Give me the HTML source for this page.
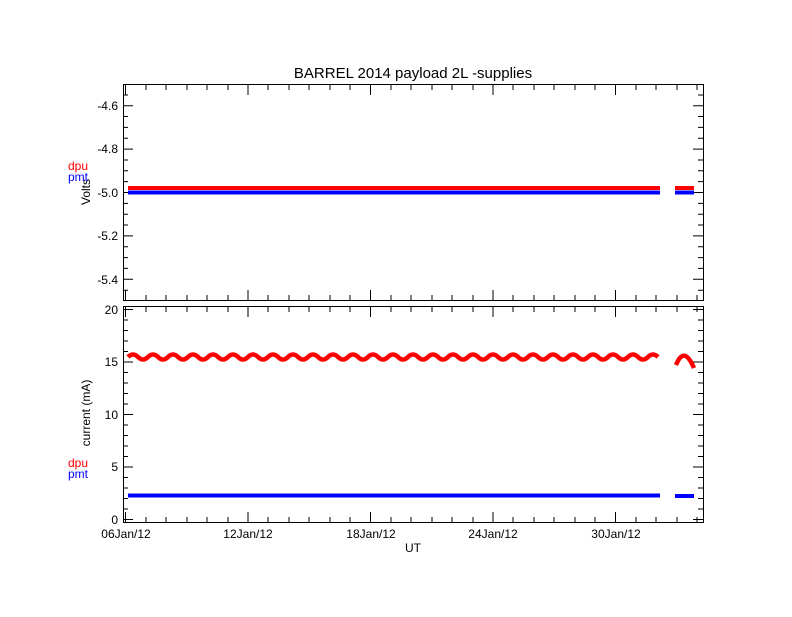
<!DOCTYPE html>
<html><head><style>
body{margin:0;background:#fff}
svg text{font-family:"Liberation Sans",sans-serif;font-size:12px}
</style></head><body>
<svg width="792" height="612" xmlns="http://www.w3.org/2000/svg">
<rect width="792" height="612" fill="#fff"/>
<text x="413" y="78" text-anchor="middle" style="font-size:15px">BARREL 2014 payload 2L -supplies</text>
<g stroke="#000" fill="none" stroke-width="1">
<rect x="123.5" y="84.5" width="580" height="216"/>
<rect x="123.5" y="306.5" width="580" height="216"/>
</g>
<g stroke="#000" stroke-width="1">
<path d="M123,105.7h10M123,149.1h10M123,192.5h10M123,235.9h10M123,279.3h10M703,105.7h-10M703,149.1h-10M703,192.5h-10M703,235.9h-10M703,279.3h-10"/>
<path d="M123,95h5M123,116.5h5M123,127.4h5M123,138.2h5M123,160h5M123,170.8h5M123,181.6h5M123,203.4h5M123,214.2h5M123,225h5M123,246.8h5M123,257.6h5M123,268.4h5M123,290.2h5M703,95h-5M703,116.5h-5M703,127.4h-5M703,138.2h-5M703,160h-5M703,170.8h-5M703,181.6h-5M703,203.4h-5M703,214.2h-5M703,225h-5M703,246.8h-5M703,257.6h-5M703,268.4h-5M703,290.2h-5"/>
<path d="M123,309.5h10M123,362h10M123,414.5h10M123,467h10M123,519.5h10M703,309.5h-10M703,362h-10M703,414.5h-10M703,467h-10M703,519.5h-10"/>
<path d="M123,320h5M123,330.5h5M123,341h5M123,351.5h5M123,372.5h5M123,383h5M123,393.5h5M123,404h5M123,425h5M123,435.5h5M123,446h5M123,456.5h5M123,477.5h5M123,488h5M123,498.5h5M123,509h5M703,320h-5M703,330.5h-5M703,341h-5M703,351.5h-5M703,372.5h-5M703,383h-5M703,393.5h-5M703,404h-5M703,425h-5M703,435.5h-5M703,446h-5M703,456.5h-5M703,477.5h-5M703,488h-5M703,498.5h-5M703,509h-5"/>
<path d="M125.5,300v-10M248,300v-10M370.5,300v-10M493,300v-10M615.5,300v-10M125.5,522v-10M248,522v-10M370.5,522v-10M493,522v-10M615.5,522v-10M125.5,85v10M248,85v10M370.5,85v10M493,85v10M615.5,85v10M125.5,307v10M248,307v10M370.5,307v10M493,307v10M615.5,307v10"/>
<path d="M146,300v-5M166,300v-5M187,300v-5M207,300v-5M228,300v-5M268,300v-5M289,300v-5M309,300v-5M330,300v-5M350,300v-5M391,300v-5M411,300v-5M432,300v-5M452,300v-5M473,300v-5M513,300v-5M534,300v-5M554,300v-5M575,300v-5M595,300v-5M636,300v-5M656,300v-5M677,300v-5M697,300v-5
M146,522v-5M166,522v-5M187,522v-5M207,522v-5M228,522v-5M268,522v-5M289,522v-5M309,522v-5M330,522v-5M350,522v-5M391,522v-5M411,522v-5M432,522v-5M452,522v-5M473,522v-5M513,522v-5M534,522v-5M554,522v-5M575,522v-5M595,522v-5M636,522v-5M656,522v-5M677,522v-5M697,522v-5
M146,85v5M166,85v5M187,85v5M207,85v5M228,85v5M268,85v5M289,85v5M309,85v5M330,85v5M350,85v5M391,85v5M411,85v5M432,85v5M452,85v5M473,85v5M513,85v5M534,85v5M554,85v5M575,85v5M595,85v5M636,85v5M656,85v5M677,85v5M697,85v5
M146,307v5M166,307v5M187,307v5M207,307v5M228,307v5M268,307v5M289,307v5M309,307v5M330,307v5M350,307v5M391,307v5M411,307v5M432,307v5M452,307v5M473,307v5M513,307v5M534,307v5M554,307v5M575,307v5M595,307v5M636,307v5M656,307v5M677,307v5M697,307v5"/>
</g>
<g text-anchor="end">
<text x="118" y="110">-4.6</text><text x="118" y="153">-4.8</text><text x="118" y="197">-5.0</text><text x="118" y="240">-5.2</text><text x="118" y="284">-5.4</text>
<text x="118" y="314">20</text><text x="118" y="366">15</text><text x="118" y="419">10</text><text x="118" y="471">5</text><text x="118" y="524">0</text>
</g>
<g text-anchor="middle">
<text x="126" y="538">06Jan/12</text><text x="248" y="538">12Jan/12</text><text x="371" y="538">18Jan/12</text><text x="493" y="538">24Jan/12</text><text x="616" y="538">30Jan/12</text>
<text x="413" y="552">UT</text>
</g>
<text transform="translate(90,192) rotate(-90)" text-anchor="middle">Volts</text>
<text transform="translate(90,413) rotate(-90)" text-anchor="middle">current (mA)</text>
<text x="68" y="170" fill="#f00">dpu</text><text x="68" y="181" fill="#00f">pmt</text>
<text x="68" y="467" fill="#f00">dpu</text><text x="68" y="478" fill="#00f">pmt</text>
<g stroke-width="4" fill="none">
<path d="M128,192.5H660M675,192.5H694" stroke="#0000ff"/>
<path d="M128,188H660M675,188H694" stroke="#ff0000"/>
</g>
<g stroke-width="4.5" fill="none" stroke-linejoin="round">
<path d="M128,495.5H660M675,496H694" stroke="#0000ff" stroke-width="4"/>
<path d="M128,357 q5,-5 10,0 t10,0 t10,0 t10,0 t10,0 t10,0 t10,0 t10,0 t10,0 t10,0 t10,0 t10,0 t10,0 t10,0 t10,0 t10,0 t10,0 t10,0 t10,0 t10,0 t10,0 t10,0 t10,0 t10,0 t10,0 t10,0 t10,0 t10,0 t10,0 t10,0 t10,0 t10,0 t10,0 t10,0 t10,0 t10,0 t10,0 t10,0 t10,0 t10,0 t10,0 t10,0 t10,0 t10,0 t10,0 t10,0 t10,0 t10,0 t10,0 t10,0 t10,0 t10,0 t10,0" stroke="#ff0000"/>
<path d="M676,365 Q684,345 694,368" stroke="#ff0000"/>
</g>
</svg>
</body></html>
